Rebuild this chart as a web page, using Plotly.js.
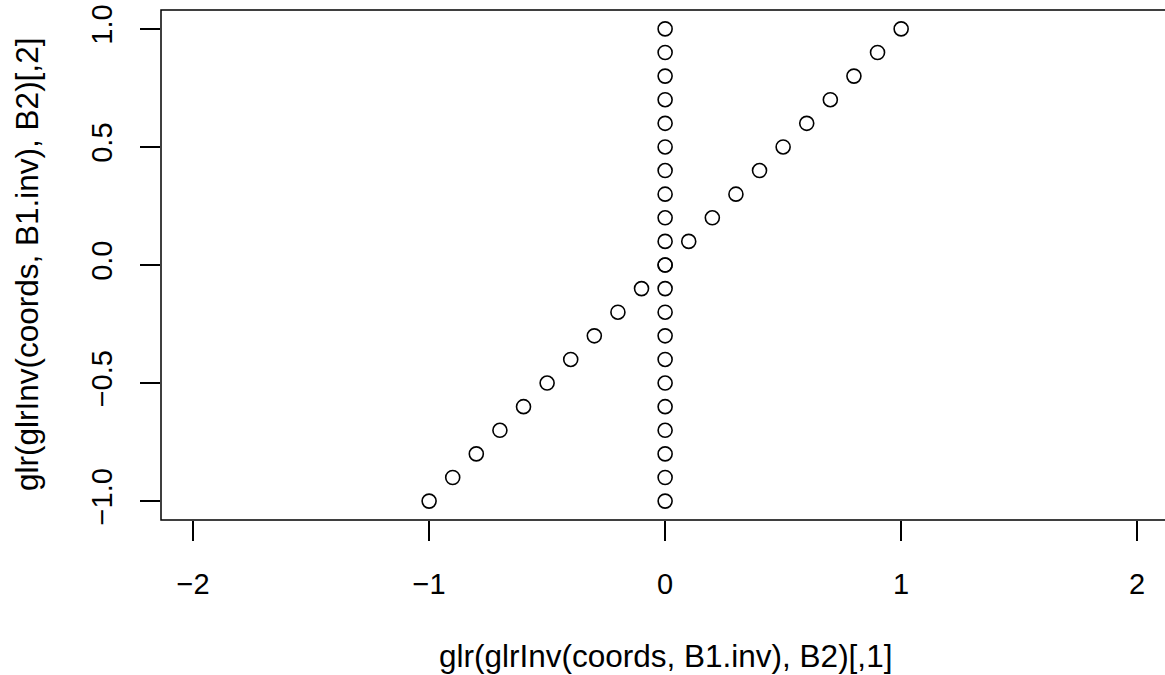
<!DOCTYPE html>
<html>
<head>
<meta charset="utf-8">
<script src="https://cdn.plot.ly/plotly-3.0.1.min.js"></script>
<style>html,body{margin:0;padding:0;background:#fff;}#chart{width:1165px;height:675px;}</style>
</head>
<body>
<div id="chart"></div>
<script>
// Series 1: diagonal points (x = y)
const diagX = [-1.0,-0.9,-0.8,-0.7,-0.6,-0.5,-0.4,-0.3,-0.2,-0.1,0.0,0.1,0.2,0.3,0.4,0.5,0.6,0.7,0.8,0.9,1.0];
const diagY = [-1.0,-0.9,-0.8,-0.7,-0.6,-0.5,-0.4,-0.3,-0.2,-0.1,0.0,0.1,0.2,0.3,0.4,0.5,0.6,0.7,0.8,0.9,1.0];
// Series 2: vertical points (x = 0)
const vertX = [0,0,0,0,0,0,0,0,0,0,0,0,0,0,0,0,0,0,0,0,0];
const vertY = [-1.0,-0.9,-0.8,-0.7,-0.6,-0.5,-0.4,-0.3,-0.2,-0.1,0.0,0.1,0.2,0.3,0.4,0.5,0.6,0.7,0.8,0.9,1.0];
const xTicks = [-2,-1,0,1,2];
const yTicks = [-1.0,-0.5,0.0,0.5,1.0];
const xTitle = "glr(glrInv(coords, B1.inv), B2)[,1]";
const yTitle = "glr(glrInv(coords, B1.inv), B2)[,2]";

const FAM = "Liberation Sans, Arial, sans-serif";
const FS = 29;
const TFS = 31.5;
const marker = {symbol: "circle-open", size: 14, color: "#000", line: {width: 1.6, color: "#000"}};
const traces = [
  {x: vertX, y: vertY, mode: "markers", type: "scatter", marker: marker, hoverinfo: "skip"},
  {x: diagX, y: diagY, mode: "markers", type: "scatter", marker: marker, hoverinfo: "skip"}
];
const layout = {
  width: 1165, height: 675,
  margin: {l: 160.7, r: 0, t: 9.5, b: 155, pad: 0},
  paper_bgcolor: "#fff", plot_bgcolor: "#fff",
  showlegend: false,
  font: {family: FAM, size: FS, color: "#000"},
  xaxis: {
    range: [-2.136, 2.118], showgrid: false, zeroline: false, showline: false,
    tickmode: "array", tickvals: xTicks, ticktext: xTicks.map(v => v < 0 ? "\u2212" + Math.abs(v) : String(v)),
    ticks: "outside", ticklen: 20, tickwidth: 1.5, tickcolor: "#000",
    ticklabelstandoff: 18, tickfont: {family: FAM, size: FS, color: "#000"}
  },
  yaxis: {
    range: [-1.08, 1.08], showgrid: false, zeroline: false, showline: false,
    tickmode: "array", tickvals: yTicks, ticktext: yTicks.map(v => (v < 0 ? "\u2212" : "") + Math.abs(v).toFixed(1)),
    ticks: "outside", ticklen: 20, tickwidth: 1.5, tickcolor: "#000", tickangle: -90,
    ticklabelstandoff: 16, tickfont: {family: FAM, size: FS, color: "#000"}
  },
  shapes: [
    {type: "rect", xref: "paper", yref: "paper", x0: 0, x1: 1.02, y0: 0, y1: 1, line: {color: "#000", width: 1.5}, layer: "above"}
  ],
  annotations: [
    {text: xTitle, xref: "x", yref: "paper", x: 0, y: 0, yshift: -136, showarrow: false, font: {family: FAM, size: TFS, color: "#000"}, xanchor: "center", yanchor: "middle"},
    {text: yTitle, xref: "paper", yref: "y", x: 0, y: 0, xshift: -134, showarrow: false, font: {family: FAM, size: TFS, color: "#000"}, textangle: -90, xanchor: "center", yanchor: "middle"}
  ]
};
Plotly.newPlot("chart", traces, layout, {staticPlot: true, displayModeBar: false});
</script>
</body>
</html>
